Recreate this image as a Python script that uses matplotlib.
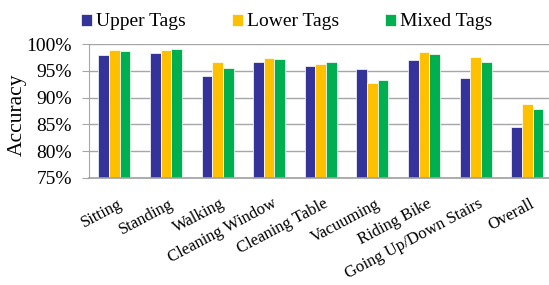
import numpy as np
import matplotlib
matplotlib.use('Agg')
import matplotlib.pyplot as plt
from matplotlib.transforms import ScaledTranslation

plt.rcParams['font.family'] = ['Liberation Serif', 'DejaVu Serif']

categories = ['Sitting', 'Standing', 'Walking', 'Cleaning Window', 'Cleaning Table',
              'Vacuuming', 'Riding Bike', 'Going Up/Down Stairs', 'Overall']
upper = [98.0, 98.45, 94.1, 96.6, 96.0, 95.4, 97.05, 93.7, 84.5]
lower = [98.95, 98.95, 96.6, 97.5, 96.4, 92.8, 98.6, 97.67, 88.8]
mixed = [98.75, 99.12, 95.6, 97.3, 96.6, 93.35, 98.2, 96.75, 87.86]
series = ['Upper Tags', 'Lower Tags', 'Mixed Tags']
colors = ['#333399', '#FFC000', '#00B050']
yticks = [75, 80, 85, 90, 95, 100]

W, H = 549, 285
fig = plt.figure(figsize=(W/100, H/100), dpi=100)
# axes runs a little past the right edge, as in the original
ax = fig.add_axes([88.5/W, 1-177.7/H, 464.5/W, (177.7-44.3)/H])

x = np.arange(len(categories))
w = 0.207
bars = []
for k, vals in enumerate([upper, lower, mixed]):
    b = ax.bar(x + (k-1)*w, vals, w, color=colors[k], edgecolor='white',
               linewidth=0.5, label=series[k], zorder=3)
    bars.append(b)

ax.set_ylim(75, 100)
ax.set_xlim(-0.5, len(categories)-0.5)
ax.set_yticks(yticks)
ax.set_yticklabels(['%d%%' % t for t in yticks], fontsize=14)
ax.yaxis.grid(True, color='#A6A6A6', linewidth=1.0, zorder=0)
ax.set_axisbelow(True)
for s in ['top', 'right']:
    ax.spines[s].set_visible(False)
ax.spines['left'].set_color('#A6A6A6')
ax.spines['bottom'].set_color('#A0A0A0')
ax.spines['bottom'].set_linewidth(1.2)
ax.spines['bottom'].set_zorder(4)
ax.tick_params(axis='y', length=5, color='#A6A6A6', pad=7)
ax.tick_params(axis='x', length=0, pad=13)
ax.set_xticks(x)
ax.set_xticklabels(categories, rotation=28, ha='right', va='top',
                   rotation_mode='anchor', fontsize=12)
for lab in ax.get_xticklabels():
    lab.set_transform(lab.get_transform() + ScaledTranslation(2/72, 0, fig.dpi_scale_trans))

fig.text(17.5/W, 1-115/H, 'Accuracy', rotation=90, ha='center', va='center', fontsize=15.5)

fig.legend(handles=bars, labels=series, loc='center', bbox_to_anchor=(286.5/W, 1-22/H),
           ncol=3, frameon=False, fontsize=14, handlelength=0.57, handleheight=0.57,
           handletextpad=0.22, columnspacing=2.35, borderaxespad=0, borderpad=0)

fig.savefig('out.png', dpi=100)
